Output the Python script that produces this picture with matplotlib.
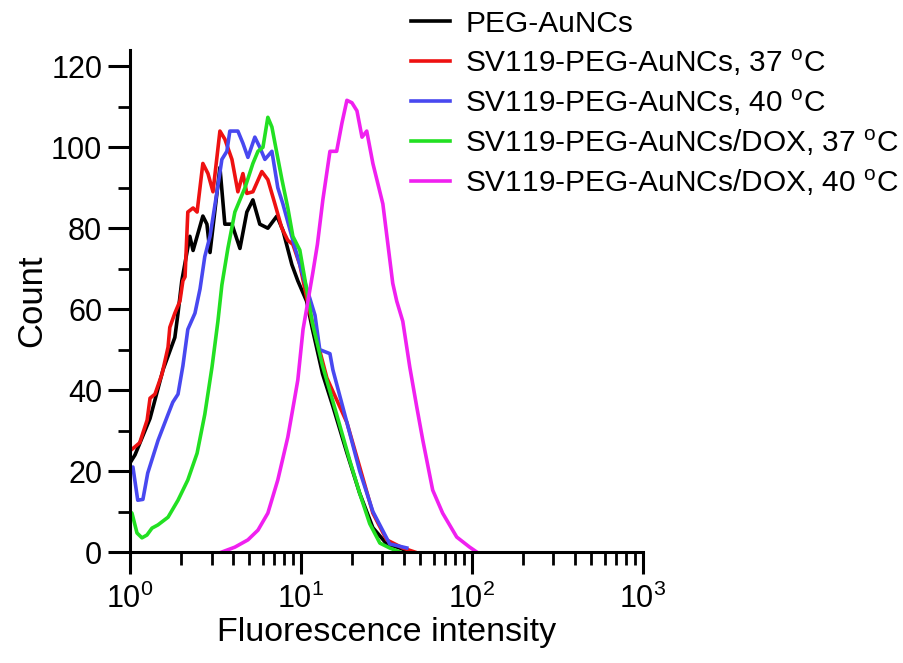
import numpy as np
import matplotlib.pyplot as plt
from matplotlib.ticker import LogLocator, FixedLocator, MultipleLocator

plt.rcParams['font.family'] = ['Liberation Sans', 'DejaVu Sans']
plt.rcParams['mathtext.fontset'] = 'custom'
plt.rcParams['mathtext.rm'] = 'Liberation Sans'

# PEG-AuNCs
x_black = [1.0, 1.07, 1.31, 1.56, 1.83, 1.91, 2.01, 2.24, 2.34, 2.67, 2.82, 2.94, 3.36, 3.59, 3.95,
           4.40, 4.83, 5.24, 5.75, 6.41, 7.24, 7.85, 8.86, 9.60, 10.8, 11.7, 13.4, 15.4, 18.6,
           22.1, 26.4, 31.8, 37.9, 43.4]
y_black = [22, 24, 33, 45, 53, 59, 67, 78, 74.5, 83, 81, 74, 95, 81, 81,
           75, 84, 87, 81, 80, 83, 79.5, 71, 67, 62, 55, 44, 36, 24.5,
           14.5, 6, 2, 1, 0]

# SV119-PEG-AuNCs, 37 oC
x_red = [1.0, 1.07, 1.14, 1.26, 1.31, 1.40, 1.54, 1.67, 1.71, 1.83, 1.96, 2.04, 2.10, 2.18, 2.34,
         2.47, 2.67, 2.86, 3.06, 3.36, 3.59, 3.95, 4.28, 4.58, 4.83, 5.24, 5.91, 6.41, 7.05,
         7.74, 8.39, 8.98, 9.86, 11.3, 14.2, 18.6, 22.1, 26.4, 31.8, 39.5, 46.4]
y_red = [25, 26, 27, 32.6, 38, 39, 44, 50.6, 55.5, 59, 62, 67, 68, 84, 85,
         84, 96, 93.5, 89, 104, 102, 97, 89, 93.5, 88.6, 89, 94, 92, 86,
         80, 77, 76, 71, 59, 43, 32, 21, 9.6, 3, 1, 0]

# SV119-PEG-AuNCs, 40 oC
x_blue = [1.0, 1.04, 1.11, 1.19, 1.27, 1.46, 1.67, 1.78, 1.91, 2.04, 2.18, 2.40, 2.57, 2.74, 2.94,
          3.23, 3.45, 3.69, 3.84, 4.28, 4.58, 4.90, 5.38, 5.75, 6.16, 6.77, 7.33, 7.85, 8.98,
          10.5, 12.1, 12.9, 14.8, 15.4, 18.6, 22.1, 26.4, 33.1, 41.7]
y_blue = [20, 21, 12.8, 13, 19.5, 27.6, 34, 37, 39, 46, 55, 59, 65, 73, 78,
          89, 97, 99, 104, 104, 101, 97.5, 102.5, 100, 97, 99, 90, 86, 77,
          67, 58.5, 50, 49, 45, 32, 20, 10, 2, 1]

# SV119-PEG-AuNCs/DOX, 37 oC
x_green = [1.0, 1.027, 1.099, 1.175, 1.257, 1.345, 1.458, 1.67, 1.91, 2.18, 2.47, 2.74, 3.02, 3.27,
           3.45, 3.74, 4.11, 4.71, 5.24, 5.61, 6.0, 6.41, 6.77, 7.24, 7.75, 8.39, 8.98, 9.86,
           10.8, 11.7, 13.4, 16.2, 19.3, 22.1, 25.3, 29.0, 33.1, 38.0]
y_green = [10, 9.6, 4.7, 3.5, 4.2, 5.9, 6.7, 8.6, 12.8, 17.8, 24.4, 34, 45.7, 57,
           66, 75, 84, 90, 96, 99, 100, 107.4, 105, 98.5, 92, 85, 78, 74.6,
           65, 56.5, 46, 34, 22.7, 14.5, 7, 2.2, 1, 0]

# SV119-PEG-AuNCs/DOX, 40 oC
x_mag = [3.45, 4.11, 4.90, 5.61, 6.41, 7.33, 8.39, 9.2, 9.60, 10.3, 10.8, 11.75, 12.5, 13.45,
         14.8, 16.2, 17.4, 18.6, 19.9, 21.3, 22.8, 24.3, 26.4, 30.2, 34.5, 36.4, 39.5, 43.4,
         47.7, 51.7, 59.1, 67.6, 81.7, 97.3, 107]
y_mag = [0, 1.2, 3, 5.4, 9.6, 17.8, 28.4, 38, 42.5, 55, 60, 69, 76, 87,
         99, 99, 106, 111.6, 111, 109, 102.5, 104, 96, 86, 66.4, 62, 57, 45.7,
         35.8, 27.7, 15.3, 9.6, 3.7, 1.2, 0]

labels = ['PEG-AuNCs',
          'SV119-PEG-AuNCs, 37 $\\mathregular{^{o}}$C',
          'SV119-PEG-AuNCs, 40 $\\mathregular{^{o}}$C',
          'SV119-PEG-AuNCs/DOX, 37 $\\mathregular{^{o}}$C',
          'SV119-PEG-AuNCs/DOX, 40 $\\mathregular{^{o}}$C']
colors = ['#000000', '#ee1111', '#4848f0', '#22e022', '#f020f0']

fig = plt.figure(figsize=(9.04, 6.63), dpi=100)
ax = fig.add_axes([0.1438, 0.1674, 0.567, 0.757])

series = [(x_black, y_black), (x_red, y_red), (x_blue, y_blue), (x_green, y_green), (x_mag, y_mag)]
for (xs, ys), c, lab in zip(series, colors, labels):
    ax.plot(xs, ys, color=c, lw=2.6, label=lab)

ax.set_xscale('log')
ax.set_xlim(1, 1000)
ax.set_ylim(0, 124)
ax.xaxis.set_major_locator(FixedLocator([1, 10, 100, 1000]))
ax.xaxis.set_minor_locator(LogLocator(base=10, subs=np.arange(2, 10)))
ax.set_xticklabels(['$\\mathregular{10^{%d}}$' % i for i in range(4)])
ax.yaxis.set_major_locator(FixedLocator([0, 20, 40, 60, 80, 100, 120]))
ax.yaxis.set_minor_locator(MultipleLocator(10))

for s in ['top', 'right']:
    ax.spines[s].set_visible(False)
for s in ['left', 'bottom']:
    ax.spines[s].set_linewidth(2.2)
ax.tick_params(which='major', length=16, width=2.2, labelsize=22, pad=4)
ax.tick_params(which='minor', length=9, width=2)
ax.tick_params(axis='x', which='major', pad=7)

ax.set_xlabel('Fluorescence intensity', fontsize=24.5, labelpad=1)
ax.set_ylabel('Count', fontsize=25, labelpad=2)

fig.legend(loc='upper left', bbox_to_anchor=(0.455, 0.985), frameon=False, fontsize=21.5,
           handlelength=1.3, handletextpad=0.5, labelspacing=0.32, borderpad=0, borderaxespad=0)

fig.savefig('out.png', dpi=100)
